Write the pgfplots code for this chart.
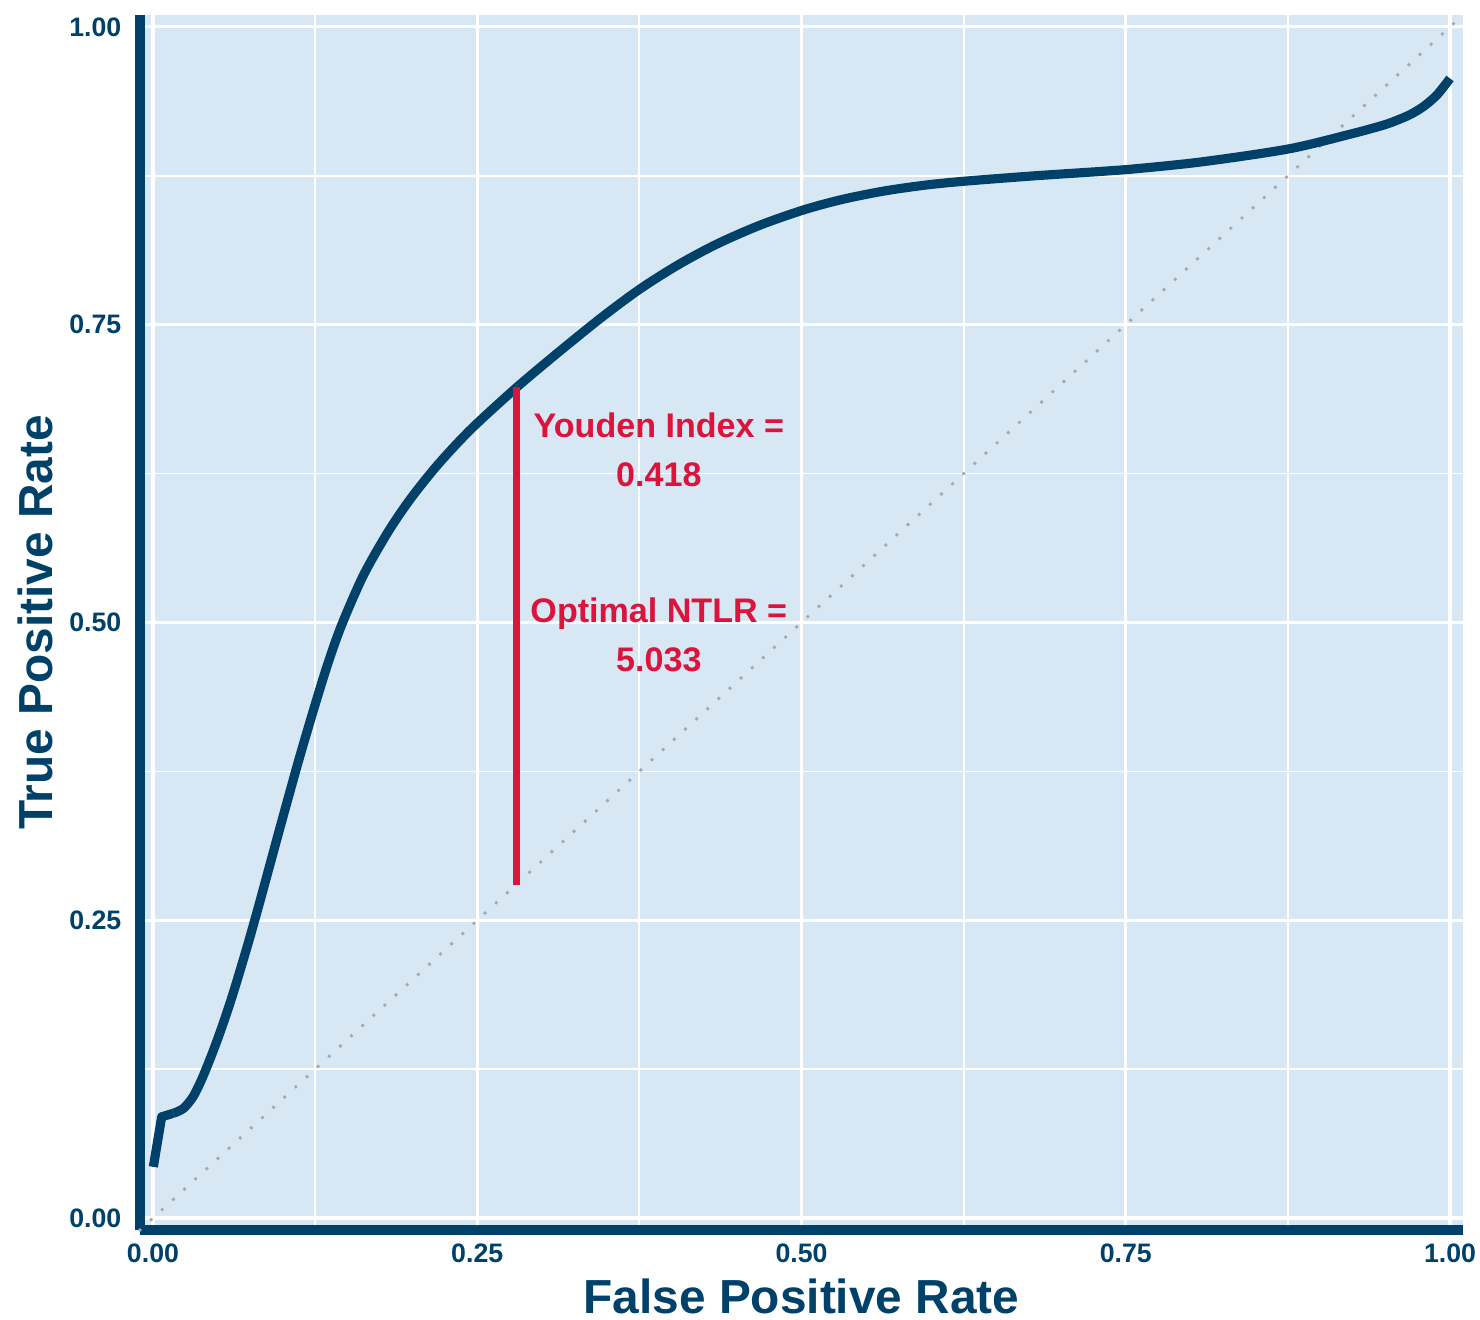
\documentclass[border=0pt]{standalone}
\usepackage{fontspec}
\setmainfont{Liberation Sans}
\usepackage{pgfplots}
\pgfplotsset{compat=1.18}

\definecolor{navy}{HTML}{00416A}
\definecolor{panel}{HTML}{D7E7F4}
\definecolor{youden}{HTML}{DC143C}
\definecolor{refline}{HTML}{A8A8A8}

\begin{document}
\begin{tikzpicture}
\useasboundingbox (0,0) rectangle (148mm,132mm);
\begin{axis}[
  at={(14mm,9mm)}, anchor=south west,
  scale only axis, width=132.3mm, height=121.5mm,
  xmin=-0.01, xmax=1.01, ymin=-0.01, ymax=1.01,
  xtick={0,0.25,0.5,0.75,1}, ytick={0,0.25,0.5,0.75,1},
  minor tick num=1,
  xticklabels={0.00,0.25,0.50,0.75,1.00},
  yticklabels={0.00,0.25,0.50,0.75,1.00},
  major tick length=0pt, minor tick length=0pt,
  grid=both,
  major grid style={white, line width=0.9pt},
  minor grid style={white, line width=0.5pt},
  axis background/.style={fill=panel},
  axis x line*=bottom, axis y line*=left,
  axis line style={navy, line width=3.1pt, -},
  tick label style={font=\fontsize{7.6}{9}\selectfont\bfseries, text=navy, inner sep=0pt},
  /pgf/number format/assume math mode=true,
  xticklabel style={anchor=base, yshift=-3.3mm},
  yticklabel style={anchor=east, xshift=-1.8mm},
  xlabel={False Positive Rate}, ylabel={True Positive Rate},
  label style={font=\fontsize{13.6}{16}\selectfont\bfseries, text=navy, inner sep=0pt},
  xlabel style={at={(axis description cs:0.5,-0.069)}, anchor=base},
  ylabel style={at={(axis description cs:-0.0665,0.5)}, anchor=base},
  clip=false,
]
  % chance line
  \addplot[refline, line width=1.1pt, line cap=round,
    dash pattern=on 0pt off 4.3pt]
    coordinates {(-0.01,-0.01)(1.01,1.01)};
  % ROC curve
  \addplot[navy, line width=2.6pt, line join=round]
    coordinates {(0.0003,0.043)(0.0067,0.085)(0.0157,0.088)};
  \addplot[navy, line width=2.6pt, smooth, line join=round]
    coordinates {
      (0.0157,0.088)(0.0234,0.092)(0.031,0.102)(0.038,0.1175)(0.0465,0.1405)
      (0.0542,0.1636)(0.0619,0.1890)(0.0696,0.2167)(0.0755,0.2387)(0.0825,0.2660)
      (0.0902,0.2968)(0.0979,0.3276)(0.1050,0.3556)(0.1133,0.3879)(0.125,0.4310)
      (0.135,0.4660)(0.1455,0.4980)(0.1622,0.5395)(0.1815,0.5765)(0.198,0.6030)
      (0.2161,0.6280)(0.2330,0.6486)(0.250,0.6673)(0.280,0.6970)(0.310,0.7245)
      (0.3446,0.7550)(0.375,0.7796)(0.405,0.8003)(0.4346,0.8176)(0.467,0.8331)
      (0.500,0.8458)(0.530,0.8548)(0.5631,0.8621)(0.595,0.8671)(0.625,0.8704)
      (0.6787,0.8749)(0.7301,0.8786)(0.7507,0.8802)(0.8072,0.8865)(0.8753,0.8975)
      (0.9229,0.9099)(0.9486,0.9175)(0.960,0.922)(0.970,0.9268)(0.980,0.9335)
      (0.990,0.9430)(1.000,0.9567)};
  % Youden index segment
  \addplot[youden, line width=2pt] coordinates {(0.28,0.28)(0.28,0.698)};
  \node[youden, font=\fontsize{9.7}{11}\selectfont\bfseries, anchor=base]
    at (axis cs:0.39,0.655) {Youden Index =};
  \node[youden, font=\fontsize{9.7}{11}\selectfont\bfseries, anchor=base]
    at (axis cs:0.39,0.614) {0.418};
  \node[youden, font=\fontsize{9.7}{11}\selectfont\bfseries, anchor=base]
    at (axis cs:0.39,0.500) {Optimal NTLR =};
  \node[youden, font=\fontsize{9.7}{11}\selectfont\bfseries, anchor=base]
    at (axis cs:0.39,0.459) {5.033};
\end{axis}
\end{tikzpicture}
\end{document}
